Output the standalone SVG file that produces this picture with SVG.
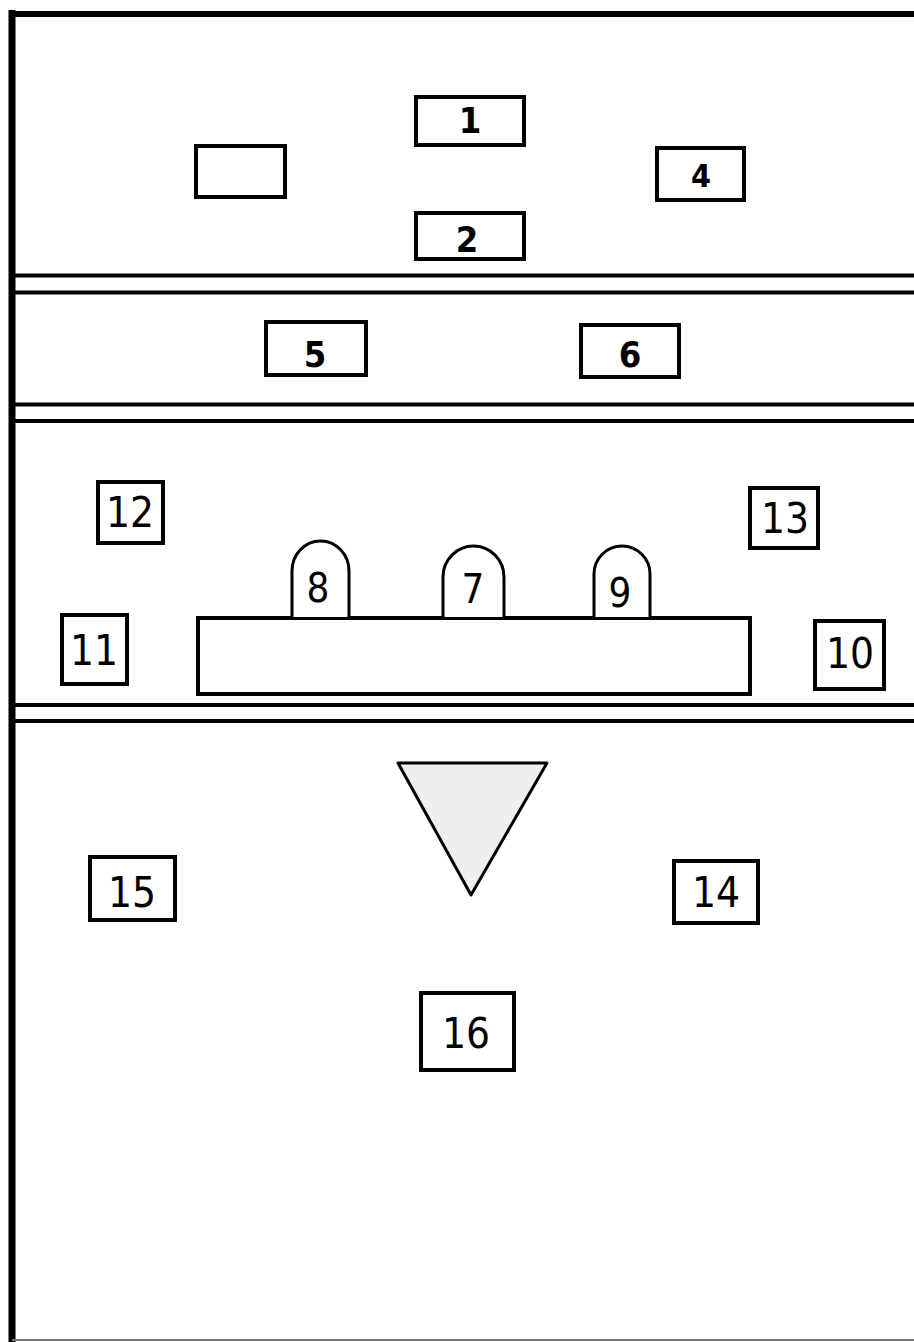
<svg xmlns="http://www.w3.org/2000/svg" width="914" height="1342" viewBox="0 0 914 1342">
<style>
.wall{stroke:#000;stroke-width:4;fill:none}
.box{fill:#fff;stroke:#000;stroke-width:4}
.arch{fill:#fff;stroke:#000;stroke-width:3}
.lbl{font-family:"Liberation Sans Narrow","DejaVu Sans Condensed","Liberation Sans",sans-serif;fill:#000;text-anchor:middle}
.sm{font-size:36px;font-weight:bold}
.lg{font-size:42px}
</style>
<rect width="914" height="1342" fill="#fff"/>
<g id="walls">
<line x1="12" y1="10" x2="12" y2="1342" stroke="#000" stroke-width="7"/>
<line x1="9" y1="14" x2="914" y2="14" stroke="#000" stroke-width="6"/>
<line x1="12" y1="1340" x2="914" y2="1340" stroke="#777" stroke-width="2"/>
<line class="wall" x1="12" y1="275.5" x2="914" y2="275.5"/>
<line class="wall" x1="12" y1="292.5" x2="914" y2="292.5"/>
<line class="wall" x1="12" y1="404.5" x2="914" y2="404.5"/>
<line class="wall" x1="12" y1="421" x2="914" y2="421"/>
<line class="wall" x1="12" y1="705" x2="914" y2="705"/>
<line class="wall" x1="12" y1="721" x2="914" y2="721"/>
</g>
<g id="node-blank"><rect class="box" x="196" y="146" width="89" height="51"/></g>
<g id="node-1"><rect class="box" x="416" y="97" width="108" height="48"/><text class="lbl sm" x="470" y="133">1</text></g>
<g id="node-2"><rect class="box" x="416" y="213" width="108" height="46"/><text class="lbl sm" x="467" y="252">2</text></g>
<g id="node-4"><rect class="box" x="657" y="148" width="87" height="52"/><text class="lbl" style="font-size:32px;font-weight:bold" x="701" y="187">4</text></g>
<g id="node-5"><rect class="box" x="266" y="322" width="100" height="53"/><text class="lbl sm" x="315" y="367">5</text></g>
<g id="node-6"><rect class="box" x="581" y="325" width="98" height="52"/><text class="lbl sm" x="630" y="367">6</text></g>
<g id="node-12"><rect class="box" x="98" y="482" width="65" height="61"/><text class="lbl lg" x="130" y="527">12</text></g>
<g id="node-13"><rect class="box" x="750" y="488" width="68" height="60"/><text class="lbl lg" x="785" y="533">13</text></g>
<g id="node-table"><rect class="box" x="198" y="618" width="552" height="76"/></g>
<g id="node-8"><path class="arch" d="M292,617 V571 A28.5,30 0 0 1 349,571 V617"/><text class="lbl" style="font-size:40px" x="318" y="602">8</text></g>
<g id="node-7"><path class="arch" d="M443,617 V577 A30.5,31 0 0 1 504,577 V617"/><text class="lbl" style="font-size:40px" x="473" y="603">7</text></g>
<g id="node-9"><path class="arch" d="M594,617 V574 A28,28 0 0 1 650,574 V617"/><text class="lbl" style="font-size:40px" x="620" y="607">9</text></g>
<g id="node-11"><rect class="box" x="62" y="615" width="65" height="69"/><text class="lbl lg" x="94" y="665">11</text></g>
<g id="node-10"><rect class="box" x="815" y="621" width="69" height="68"/><text class="lbl lg" x="850" y="668">10</text></g>
<g id="node-triangle"><path d="M398,763 L547,763 L471,895 Z" fill="#efefef" stroke="#000" stroke-width="3" stroke-linejoin="round"/></g>
<g id="node-15"><rect class="box" x="90" y="857" width="85" height="63"/><text class="lbl lg" x="132" y="907">15</text></g>
<g id="node-14"><rect class="box" x="674" y="861" width="84" height="62"/><text class="lbl lg" x="716" y="907">14</text></g>
<g id="node-16"><rect class="box" x="421" y="993" width="93" height="77"/><text class="lbl lg" x="466" y="1048">16</text></g>
<g id="connectors"></g>
</svg>
